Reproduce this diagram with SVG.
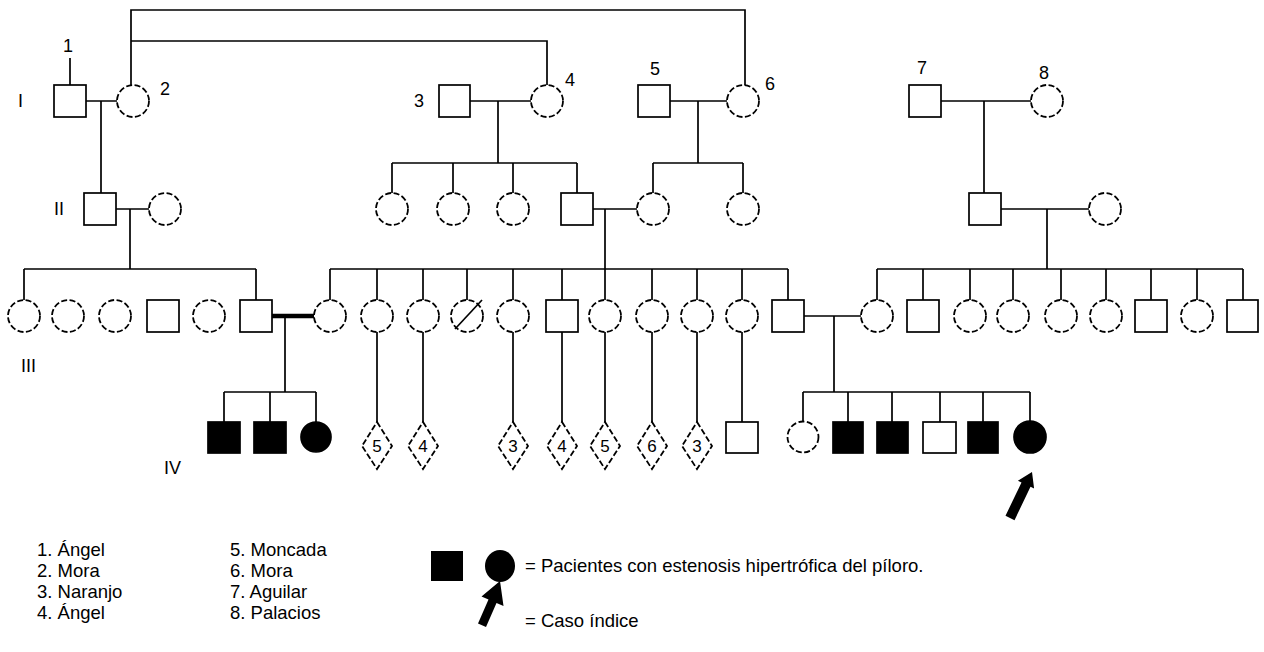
<svg xmlns="http://www.w3.org/2000/svg" width="1264" height="652" viewBox="0 0 1264 652">
<style>
.ln{stroke:#000;stroke-width:1.7;fill:none}
.thick{stroke:#000;stroke-width:4.5;fill:none}
.sq{stroke:#000;stroke-width:1.7;fill:#fff}
.ci{stroke:#000;stroke-width:1.8;fill:#fff;stroke-dasharray:6 2.5}
.dm{stroke:#000;stroke-width:1.8;fill:#fff;stroke-dasharray:6 2.5}
.fill{fill:#000;stroke:#000;stroke-width:1.7}
.t{font-family:"Liberation Sans",Arial,sans-serif;font-size:18px;fill:#000}
.n{font-family:"Liberation Sans",Arial,sans-serif;font-size:17px;fill:#000;text-anchor:middle}
.lg{font-family:"Liberation Sans",Arial,sans-serif;font-size:18.5px;fill:#000}
</style>
<rect width="1264" height="652" fill="#fff"/>
<g id="connectors">
<path class="ln" d="M131,85V10H745V85M131,41H547V85"/>
<path class="ln" d="M70,58V85M86,101H117M101,101V193"/>
<path class="ln" d="M470,101H531M498,101V163M392,163H577M392,163V193M453,163V193M513,163V193M577,163V193"/>
<path class="ln" d="M670,101H727M698,101V163M653,163H743M653,163V193M743,163V193"/>
<path class="ln" d="M941,101H1031M984,101V193"/>
<path class="ln" d="M116,209H149M130,209V269M24,269H256M24,269V300M256,269V300"/>
<path class="ln" d="M593,209H637M605,209V300M330,269H788M330,269V300M377,269V300M423,269V300M467,269V300M513,269V300M562,269V300M652,269V300M697,269V300M742,269V300M788,269V300"/>
<path class="ln" d="M1001,209H1089M1047,209V269M877,269H1243M877,269V300M923,269V300M970,269V300M1013,269V300M1061,269V300M1106,269V300M1151,269V300M1197,269V300M1243,269V300"/>
<path class="thick" d="M272,316H316"/>
<path class="ln" d="M285,316V392M224,392H316M224,392V422M270,392V422M316,392V422"/>
<path class="ln" d="M377,332V422M423,332V422M513,332V422M562,332V422M605,332V422M652,332V422M697,332V422M742,332V422"/>
<path class="ln" d="M804,316H861M834,316V392M803,392H1030M803,392V422M848,392V422M892,392V422M940,392V422M983,392V422M1030,392V422"/>
</g>
<g id="labels">
<text class="t" x="63" y="52">1</text>
<text class="t" x="160" y="95">2</text>
<text class="t" x="414" y="107">3</text>
<text class="t" x="565" y="86">4</text>
<text class="t" x="650" y="75">5</text>
<text class="t" x="765" y="90">6</text>
<text class="t" x="917" y="74">7</text>
<text class="t" x="1039" y="79">8</text>
<text class="t" x="18" y="107">I</text>
<text class="t" x="54" y="215">II</text>
<text class="t" x="21" y="372">III</text>
<text class="t" x="164" y="474">IV</text>
</g>
<g id="I-1"><rect class="sq" x="54" y="85" width="32" height="32"/></g>
<g id="I-2"><circle class="ci" cx="133" cy="101" r="16"/></g>
<g id="I-3"><rect class="sq" x="439" y="85" width="31" height="32"/></g>
<g id="I-4"><circle class="ci" cx="547" cy="101" r="16"/></g>
<g id="I-5"><rect class="sq" x="638" y="85" width="32" height="32"/></g>
<g id="I-6"><circle class="ci" cx="743" cy="101" r="16"/></g>
<g id="I-7"><rect class="sq" x="909" y="85" width="32" height="32"/></g>
<g id="I-8"><circle class="ci" cx="1047" cy="101" r="16"/></g>
<g id="II-1"><rect class="sq" x="84" y="193" width="32" height="32"/></g>
<g id="II-2"><circle class="ci" cx="165" cy="209" r="16"/></g>
<g id="II-3"><circle class="ci" cx="392" cy="209" r="16"/></g>
<g id="II-4"><circle class="ci" cx="453" cy="209" r="16"/></g>
<g id="II-5"><circle class="ci" cx="513" cy="209" r="16"/></g>
<g id="II-6"><rect class="sq" x="561" y="193" width="32" height="32"/></g>
<g id="II-7"><circle class="ci" cx="653" cy="209" r="16"/></g>
<g id="II-8"><circle class="ci" cx="743" cy="209" r="16"/></g>
<g id="II-9"><rect class="sq" x="969" y="193" width="32" height="32"/></g>
<g id="II-10"><circle class="ci" cx="1105" cy="209" r="16"/></g>
<g id="III-1"><circle class="ci" cx="24" cy="316" r="16"/></g>
<g id="III-2"><circle class="ci" cx="68" cy="316" r="16"/></g>
<g id="III-3"><circle class="ci" cx="115" cy="316" r="16"/></g>
<g id="III-4"><rect class="sq" x="147" y="300" width="32" height="32"/></g>
<g id="III-5"><circle class="ci" cx="209" cy="316" r="16"/></g>
<g id="III-6"><rect class="sq" x="240" y="300" width="32" height="32"/></g>
<g id="III-7"><circle class="ci" cx="330" cy="316" r="16"/></g>
<g id="III-8"><circle class="ci" cx="377" cy="316" r="16"/></g>
<g id="III-9"><circle class="ci" cx="423" cy="316" r="16"/></g>
<g id="III-10"><circle class="ci" cx="467" cy="316" r="16"/><line class="ln" x1="455" y1="329" x2="482" y2="300"/></g>
<g id="III-11"><circle class="ci" cx="513" cy="316" r="16"/></g>
<g id="III-12"><rect class="sq" x="546" y="300" width="32" height="32"/></g>
<g id="III-13"><circle class="ci" cx="605" cy="316" r="16"/></g>
<g id="III-14"><circle class="ci" cx="652" cy="316" r="16"/></g>
<g id="III-15"><circle class="ci" cx="697" cy="316" r="16"/></g>
<g id="III-16"><circle class="ci" cx="742" cy="316" r="16"/></g>
<g id="III-17"><rect class="sq" x="772" y="300" width="32" height="32"/></g>
<g id="III-18"><circle class="ci" cx="877" cy="316" r="16"/></g>
<g id="III-19"><rect class="sq" x="907" y="300" width="32" height="32"/></g>
<g id="III-20"><circle class="ci" cx="970" cy="316" r="16"/></g>
<g id="III-21"><circle class="ci" cx="1013" cy="316" r="16"/></g>
<g id="III-22"><circle class="ci" cx="1061" cy="316" r="16"/></g>
<g id="III-23"><circle class="ci" cx="1106" cy="316" r="16"/></g>
<g id="III-24"><rect class="sq" x="1135" y="300" width="32" height="32"/></g>
<g id="III-25"><circle class="ci" cx="1197" cy="316" r="16"/></g>
<g id="III-26"><rect class="sq" x="1227" y="300" width="31" height="32"/></g>
<g id="IV-1"><rect class="fill" x="208" y="422" width="32" height="31"/></g>
<g id="IV-2"><rect class="fill" x="254" y="422" width="32" height="31"/></g>
<g id="IV-3"><circle class="fill" cx="316" cy="437" r="15"/></g>
<g id="IV-4"><polygon class="dm" points="377,422 392,446 377,469 362,446"/><text class="n" x="377" y="452">5</text></g>
<g id="IV-5"><polygon class="dm" points="423,422 438,446 423,469 408,446"/><text class="n" x="423" y="452">4</text></g>
<g id="IV-6"><polygon class="dm" points="513,422 528,446 513,469 498,446"/><text class="n" x="513" y="452">3</text></g>
<g id="IV-7"><polygon class="dm" points="562,422 577,446 562,469 547,446"/><text class="n" x="562" y="452">4</text></g>
<g id="IV-8"><polygon class="dm" points="605,422 620,446 605,469 590,446"/><text class="n" x="605" y="452">5</text></g>
<g id="IV-9"><polygon class="dm" points="652,422 667,446 652,469 637,446"/><text class="n" x="652" y="452">6</text></g>
<g id="IV-10"><polygon class="dm" points="697,422 712,446 697,469 682,446"/><text class="n" x="697" y="452">3</text></g>
<g id="IV-11"><rect class="sq" x="726" y="422" width="32" height="31"/></g>
<g id="IV-12"><circle class="ci" cx="803" cy="437" r="15.5"/></g>
<g id="IV-13"><rect class="fill" x="833" y="422" width="30" height="31"/></g>
<g id="IV-14"><rect class="fill" x="877" y="422" width="31" height="31"/></g>
<g id="IV-15"><rect class="sq" x="923" y="422" width="33" height="31"/></g>
<g id="IV-16"><rect class="fill" x="968" y="422" width="30" height="31"/></g>
<g id="IV-17"><circle class="fill" cx="1030" cy="437" r="16"/></g>
<g id="index-arrow"><polygon fill="#000" points="1032,472 1034.1,488.5 1030.5,486.8 1014.5,520.2 1005.5,515.8 1021.5,482.4 1017.9,480.7"/></g>
<g id="legend">
<text class="lg" x="37" y="556">1. Ángel</text>
<text class="lg" x="37" y="577">2. Mora</text>
<text class="lg" x="37" y="598">3. Naranjo</text>
<text class="lg" x="37" y="619">4. Ángel</text>
<text class="lg" x="230" y="556">5. Moncada</text>
<text class="lg" x="230" y="577">6. Mora</text>
<text class="lg" x="230" y="598">7. Aguilar</text>
<text class="lg" x="230" y="619">8. Palacios</text>
<rect x="431" y="551" width="32" height="30" fill="#000"/>
<ellipse cx="500" cy="566" rx="15" ry="16" fill="#000"/>
<text class="lg" x="525" y="572">= Pacientes con estenosis hipertrófica del píloro.</text>
<polygon fill="#000" points="500,581 503.5,606 496.5,603 486,627 478,623.5 488.5,599.5 481.5,596.5"/>
<text class="lg" x="525" y="627">= Caso índice</text>
</g>
</svg>
